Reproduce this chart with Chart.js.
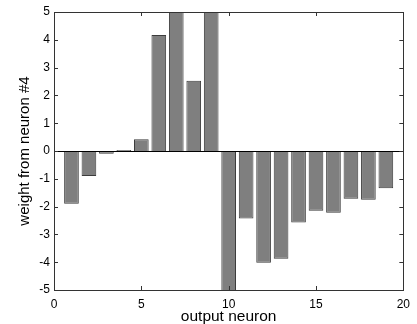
<!DOCTYPE html>
<html>
<head>
<meta charset="utf-8">
<script src="https://cdn.jsdelivr.net/npm/chart.js@4/dist/chart.umd.min.js"></script>
<style>
  html, body { margin: 0; padding: 0; background: #fff; }
  canvas { display: block; }
</style>
</head>
<body>
<canvas id="chart" width="417" height="324"></canvas>
<script>
// Datos (barras 7, 9 y 10 recortadas por el eje)
const neurons = [1, 2, 3, 4, 5, 6, 7, 8, 9, 10, 11, 12, 13, 14, 15, 16, 17, 18, 19];
const weights = [-1.9, -0.9, -0.1, 0.04, 0.42, 4.17, 6.0, 2.53, 6.0, -6.0,
                 -2.43, -4.02, -3.88, -2.57, -2.15, -2.22, -1.72, -1.75, -1.34];
const xTicks = [0, 5, 10, 15, 20];
const yTicks = [-5, -4, -3, -2, -1, 0, 1, 2, 3, 4, 5];

Chart.defaults.font.family = '"Liberation Sans", Arial, sans-serif';
Chart.defaults.color = '#000';

// Caja estilo matlab: marco, marcas hacia dentro y línea base en 0
const boxPlugin = {
    id: 'matlabBox',
    afterDatasetsDraw(chart) {
        const { ctx, chartArea: a, scales } = chart;
        const x = scales.x, y = scales.y;
        const tick = 4;
        ctx.save();
        ctx.strokeStyle = '#000';
        ctx.lineWidth = 1;
        // línea base
        const y0 = Math.round(y.getPixelForValue(0)) + 0.5;
        ctx.beginPath();
        ctx.moveTo(a.left, y0);
        ctx.lineTo(a.right, y0);
        ctx.stroke();
        ctx.strokeStyle = '#333';
        ctx.strokeRect(Math.round(a.left) + 0.5, Math.round(a.top) + 0.5,
                       Math.round(a.right - a.left), Math.round(a.bottom - a.top));
        ctx.beginPath();
        xTicks.forEach(v => {
            const px = Math.round(x.getPixelForValue(v)) + 0.5;
            ctx.moveTo(px, a.bottom); ctx.lineTo(px, a.bottom - tick);
            ctx.moveTo(px, a.top); ctx.lineTo(px, a.top + tick);
        });
        yTicks.forEach(v => {
            const py = Math.round(y.getPixelForValue(v)) + 0.5;
            ctx.moveTo(a.left, py); ctx.lineTo(a.left + tick, py);
            ctx.moveTo(a.right, py); ctx.lineTo(a.right - tick, py);
        });
        ctx.stroke();
        ctx.restore();
    }
};

new Chart(document.getElementById('chart'), {
    type: 'bar',
    data: {
        datasets: [{
            data: neurons.map((n, i) => ({ x: n, y: weights[i] })),
            backgroundColor: '#7f7f7f',
            borderColor: '#3c3c3c',
            borderWidth: 1,
            barPercentage: 0.84,
            categoryPercentage: 1.0
        }]
    },
    options: {
        responsive: false,
        animation: false,
        layout: { padding: { left: 0, top: 12, right: 8, bottom: 0 } },
        plugins: {
            legend: { display: false },
            tooltip: { enabled: false }
        },
        scales: {
            x: {
                type: 'linear',
                min: 0,
                max: 20,
                offset: false,
                grid: { display: false, drawTicks: false, offset: false },
                border: { display: false },
                afterBuildTicks: s => { s.ticks = xTicks.map(v => ({ value: v })); },
                ticks: { font: { size: 12 }, padding: 7, maxRotation: 0 },
                title: { display: true, text: 'output neuron', font: { size: 15.5, lineHeight: 1.0 }, padding: { top: 0, bottom: 0 } },
                afterFit: s => { s.height = 34; }
            },
            y: {
                min: -5,
                max: 5,
                grid: { display: false, drawTicks: false },
                border: { display: false },
                afterBuildTicks: s => { s.ticks = yTicks.map(v => ({ value: v })); },
                ticks: { font: { size: 12 }, padding: 4 },
                title: { display: true, text: 'weight from neuron #4', font: { size: 15 }, padding: { top: 16, bottom: 0 } },
                afterFit: s => { s.width = 54; }
            }
        }
    },
    plugins: [boxPlugin]
});
</script>
</body>
</html>
